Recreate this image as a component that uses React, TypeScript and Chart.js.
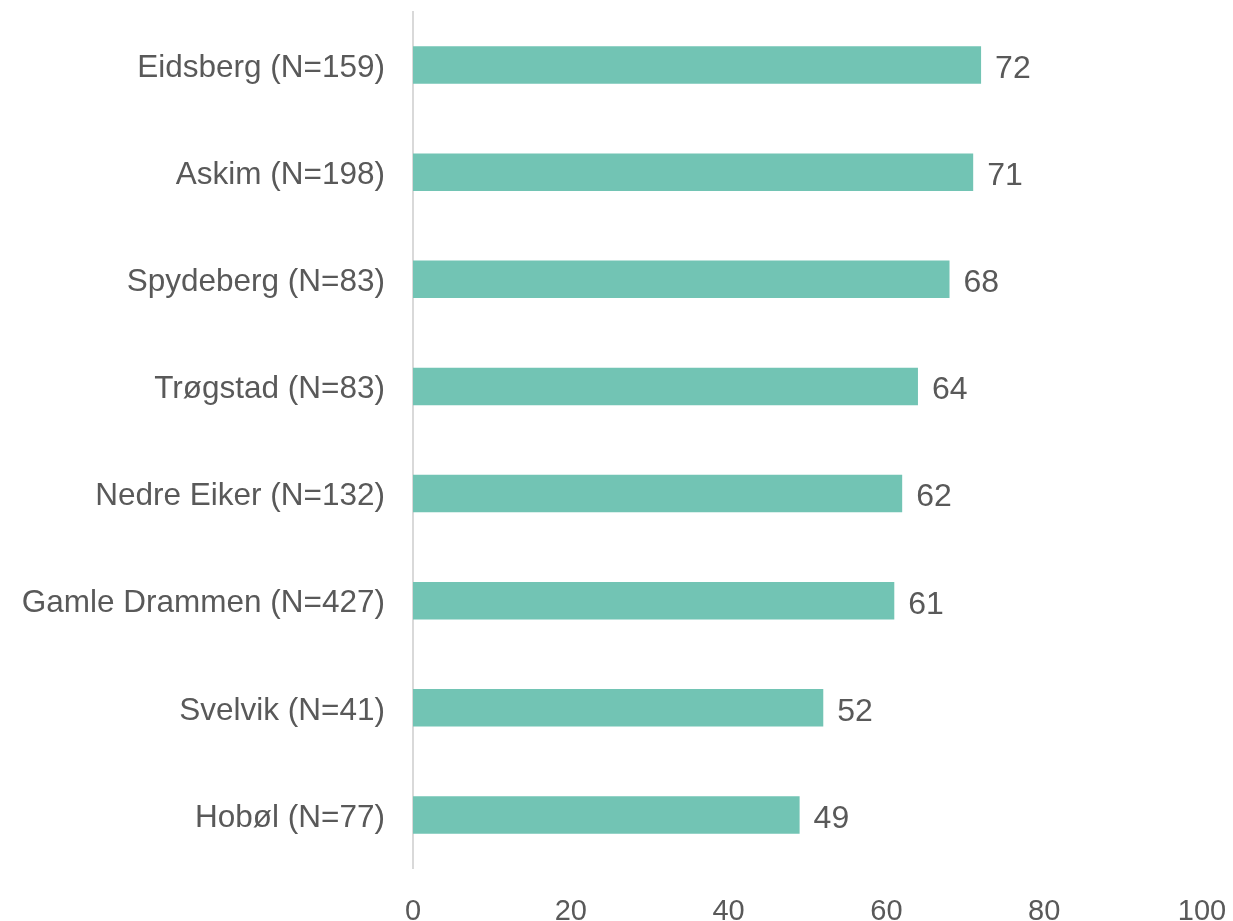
import React, { useEffect, useRef } from "react";
import { Chart, registerables } from "chart.js";

Chart.register(...registerables);

const categories = [
  "Eidsberg (N=159)",
  "Askim (N=198)",
  "Spydeberg (N=83)",
  "Trøgstad (N=83)",
  "Nedre Eiker (N=132)",
  "Gamle Drammen (N=427)",
  "Svelvik (N=41)",
  "Hobøl (N=77)",
];
const values = [72, 71, 68, 64, 62, 61, 52, 49];
const xTicks = [0, 20, 40, 60, 80, 100];

const TEXT_COLOR = "#595959";
const BAR_COLOR = "#72C4B4";
const FONT = "Liberation Sans, Arial, sans-serif";

const valueLabels = {
  id: "valueLabels",
  afterDatasetsDraw(chart: any) {
    const ctx = chart.ctx;
    const meta = chart.getDatasetMeta(0);
    ctx.save();
    ctx.font = `32px ${FONT}`;
    ctx.fillStyle = TEXT_COLOR;
    ctx.textAlign = "left";
    ctx.textBaseline = "middle";
    meta.data.forEach((bar: any, i: number) => {
      ctx.fillText(String(values[i]), bar.x + 14, bar.y + 4);
    });
    ctx.restore();
  },
};

export default function App() {
  const ref = useRef<HTMLCanvasElement | null>(null);
  useEffect(() => {
    if (!ref.current) return;
    const chart = new Chart(ref.current, {
      type: "bar",
      data: {
        labels: categories,
        datasets: [
          {
            data: values,
            backgroundColor: BAR_COLOR,
            barPercentage: 0.35,
            categoryPercentage: 1,
          },
        ],
      },
      options: {
        indexAxis: "y",
        animation: false,
        responsive: false,
        maintainAspectRatio: false,
        layout: { padding: { top: 11.5, right: 31, left: 0, bottom: 0 } },
        plugins: { legend: { display: false }, tooltip: { enabled: false } },
        scales: {
          x: {
            min: 0,
            max: 100,
            afterBuildTicks(scale: any) {
              scale.ticks = xTicks.map((v) => ({ value: v }));
            },
            afterFit(scale: any) {
              scale.height = 52.5;
              scale.paddingLeft = 0;
              scale.paddingRight = 0;
            },
            grid: { display: false, drawTicks: false },
            border: { display: false },
            ticks: {
              color: TEXT_COLOR,
              font: { family: FONT, size: 29 },
              padding: 26,
              maxRotation: 0,
              autoSkip: false,
            },
          },
          y: {
            afterFit(scale: any) {
              scale.width = 413;
              scale.paddingTop = 0;
              scale.paddingBottom = 0;
            },
            grid: { display: false, drawTicks: false },
            border: { display: true, color: "#D9D9D9", width: 2 },
            ticks: {
              color: TEXT_COLOR,
              font: { family: FONT, size: 31.5 },
              padding: 28,
              labelOffset: 3,
              autoSkip: false,
            },
          },
        },
      },
      plugins: [valueLabels],
    });
    return () => chart.destroy();
  }, []);
  return (
    <div style={{ position: "fixed", left: 0, top: 0, width: 1233, height: 921, background: "#fff" }}>
      <canvas ref={ref} width={1233} height={921} style={{ width: 1233, height: 921, display: "block" }} />
    </div>
  );
}
